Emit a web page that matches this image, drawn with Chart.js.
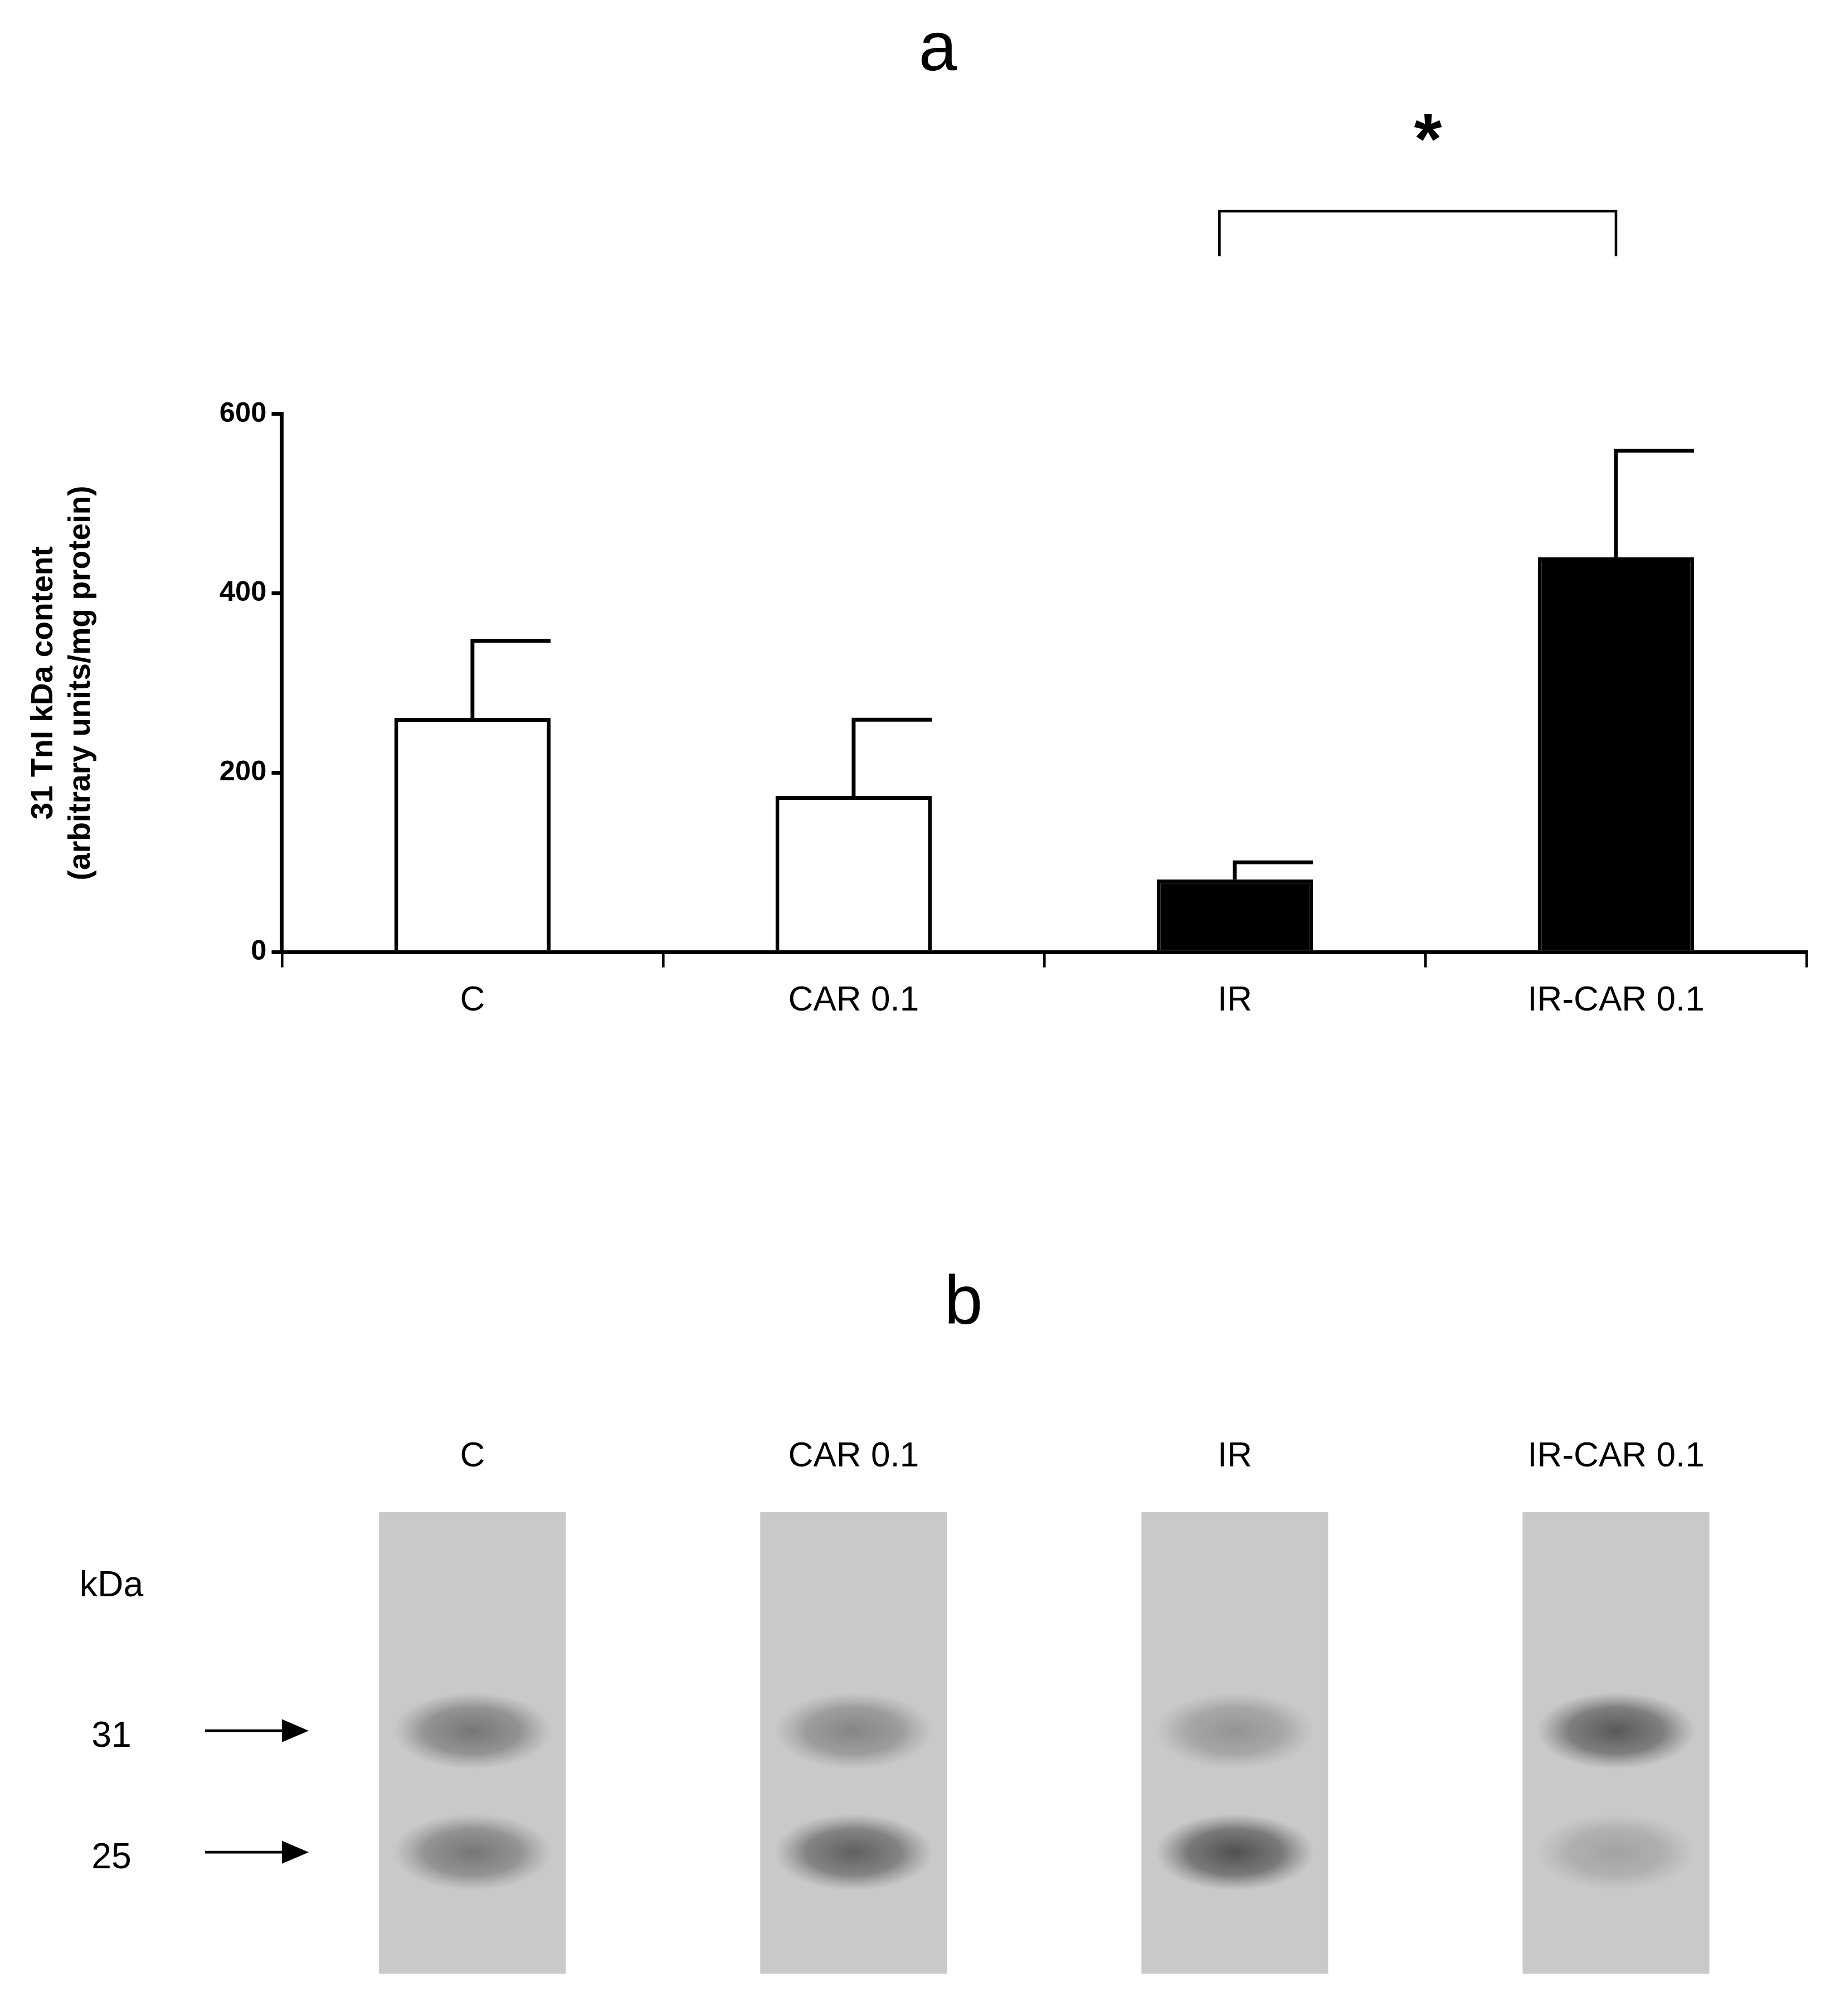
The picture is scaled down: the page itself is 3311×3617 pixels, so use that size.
<!DOCTYPE html>
<html><head><meta charset="utf-8">
<script src="https://cdn.jsdelivr.net/npm/chart.js@4"></script>
<style>
html,body{margin:0;padding:0;background:#fff;overflow:hidden}
#a{position:absolute;left:0;top:0;width:3311px;height:2069px}
#b{position:absolute;left:0;top:2069px;width:3311px;height:1548px}
</style></head><body>
<div id="a"><canvas id="ca"></canvas></div><div id="b"><canvas id="cb"></canvas></div>
<script>
const categories=['C','CAR 0.1','IR','IR-CAR 0.1'];
const means=[261,174,81,440];
const sems=[86,85,19,119];
const fills=['#ffffff','#ffffff','#000000','#000000'];
const yTicks=[0,200,400,600];
const bandKDa=[31,25];
const band31=[0.55,0.45,0.35,0.75];
const band25=[0.55,0.7,0.8,0.25];
const F='Arial, "Liberation Sans", sans-serif';
const S=2.2993;const s=v=>v*S;

const errPlugin={id:'err',afterDatasetsDraw(c){
 const ctx=c.ctx,meta=c.getDatasetMeta(0),y=c.scales.y,x=c.scales.x;
 ctx.save();ctx.strokeStyle='#000';ctx.lineWidth=s(3);
 meta.data.forEach((b,i)=>{const t=y.getPixelForValue(means[i]),e=y.getPixelForValue(means[i]+sems[i]);
  ctx.beginPath();ctx.moveTo(b.x,t);ctx.lineTo(b.x,e);ctx.moveTo(b.x-s(1.5),e);ctx.lineTo(b.x+b.width*0.5,e);ctx.stroke();});
 const x1=x.getPixelForValue(2),x2=x.getPixelForValue(3),yb=y.getPixelForValue(826),ye=y.getPixelForValue(776);
 ctx.lineWidth=s(2);ctx.beginPath();ctx.moveTo(x1-s(12),ye);ctx.lineTo(x1-s(12),yb);ctx.lineTo(x2,yb);ctx.lineTo(x2,ye);ctx.stroke();
 ctx.fillStyle='#000';ctx.textAlign='center';ctx.textBaseline='middle';
 ctx.font='bold '+s(56)+'px '+F;ctx.fillText('*',(x1+x2)/2+s(2),s(112));
 ctx.font=s(54)+'px '+F;ctx.fillText('a',s(732),s(40));
 ctx.restore();}};

new Chart(document.getElementById('ca'),{type:'bar',
 data:{labels:categories,datasets:[{data:means,backgroundColor:fills,borderColor:'#000',borderWidth:s(3),barPercentage:0.41,categoryPercentage:1}]},
 options:{responsive:true,maintainAspectRatio:false,devicePixelRatio:1,animation:false,
  layout:{padding:{top:s(323),right:s(30),left:0,bottom:0}},
  plugins:{legend:{display:false},tooltip:{enabled:false}},
  scales:{
   y:{min:0,max:600,afterFit(sc){sc.width=s(220);},afterBuildTicks(sc){sc.ticks=yTicks.map(v=>({value:v}));},
    ticks:{color:'#000',font:{family:F,size:s(22),weight:'bold'},padding:s(4)},
    grid:{drawOnChartArea:false,drawTicks:true,tickLength:s(8),color:'#000',lineWidth:s(3)},
    border:{color:'#000',width:s(3)},
    title:{display:true,text:['31 TnI kDa content','(arbitrary units/mg protein)'],color:'#000',font:{family:F,size:s(24),weight:'bold'},padding:{top:s(20),bottom:s(30)}}},
   x:{afterFit(sc){sc.height=s(157);},offset:true,
    ticks:{color:'#000',font:{family:F,size:s(27)},padding:s(10)},
    grid:{offset:true,drawOnChartArea:false,drawTicks:true,tickLength:s(12),color:'#000',lineWidth:s(2)},
    border:{color:'#000',width:s(3)}}}},
 plugins:[errPlugin]});

const gelPlugin={id:'gel',afterDatasetsDraw(c){
 const ctx=c.ctx,meta=c.getDatasetMeta(0),y=c.scales.y;
 ctx.save();
 meta.data.forEach((b,i)=>{
  [band31[i],band25[i]].forEach((d,k)=>{const cy=y.getPixelForValue(bandKDa[k]);const w=b.width*0.85,h=s(30);
   ctx.save();ctx.beginPath();ctx.rect(b.x-b.width/2,cy-h,b.width,2*h);ctx.clip();
   ctx.translate(b.x,cy);ctx.scale(1,h/(w/2));
   const g=ctx.createRadialGradient(0,0,0,0,0,w/2);
   g.addColorStop(0,'rgba(50,50,50,'+d+')');g.addColorStop(0.6,'rgba(60,60,60,'+(d*0.7)+')');g.addColorStop(1,'rgba(90,90,90,0)');
   ctx.fillStyle=g;ctx.fillRect(-w*0.7,-w/2,w*1.4,w);ctx.restore();});
  ctx.fillStyle='#000';ctx.font=s(27)+'px '+F;ctx.textAlign='center';ctx.textBaseline='middle';
  ctx.fillText(categories[i],b.x,s(237));});
 ctx.fillStyle='#000';ctx.font=s(28)+'px '+F;ctx.textAlign='center';ctx.textBaseline='middle';
 ctx.fillText('kDa',s(87),s(338));
 bandKDa.forEach(k=>{const cy=y.getPixelForValue(k);ctx.fillText(String(k),s(87),cy+s(5));
  ctx.lineWidth=s(2);ctx.strokeStyle='#000';ctx.beginPath();ctx.moveTo(s(160),cy);ctx.lineTo(s(225),cy);ctx.stroke();
  ctx.beginPath();ctx.moveTo(s(241),cy);ctx.lineTo(s(220),cy-s(9));ctx.lineTo(s(220),cy+s(9));ctx.closePath();ctx.fill();});
 ctx.font=s(54)+'px '+F;ctx.fillText('b',s(752),s(118));
 ctx.restore();}};

new Chart(document.getElementById('cb'),{type:'bar',
 data:{labels:categories,datasets:[{data:categories.map(()=>[19,41.8]),backgroundColor:'#c9c9c9',borderSkipped:false,barPercentage:0.49,categoryPercentage:1}]},
 options:{responsive:true,maintainAspectRatio:false,devicePixelRatio:1,animation:false,
  layout:{padding:{top:s(280),right:s(30),left:s(220),bottom:s(33)}},
  plugins:{legend:{display:false},tooltip:{enabled:false}},
  scales:{y:{display:false,min:19,max:41.8},x:{display:false,offset:true}}},
 plugins:[gelPlugin]});
</script></body></html>
